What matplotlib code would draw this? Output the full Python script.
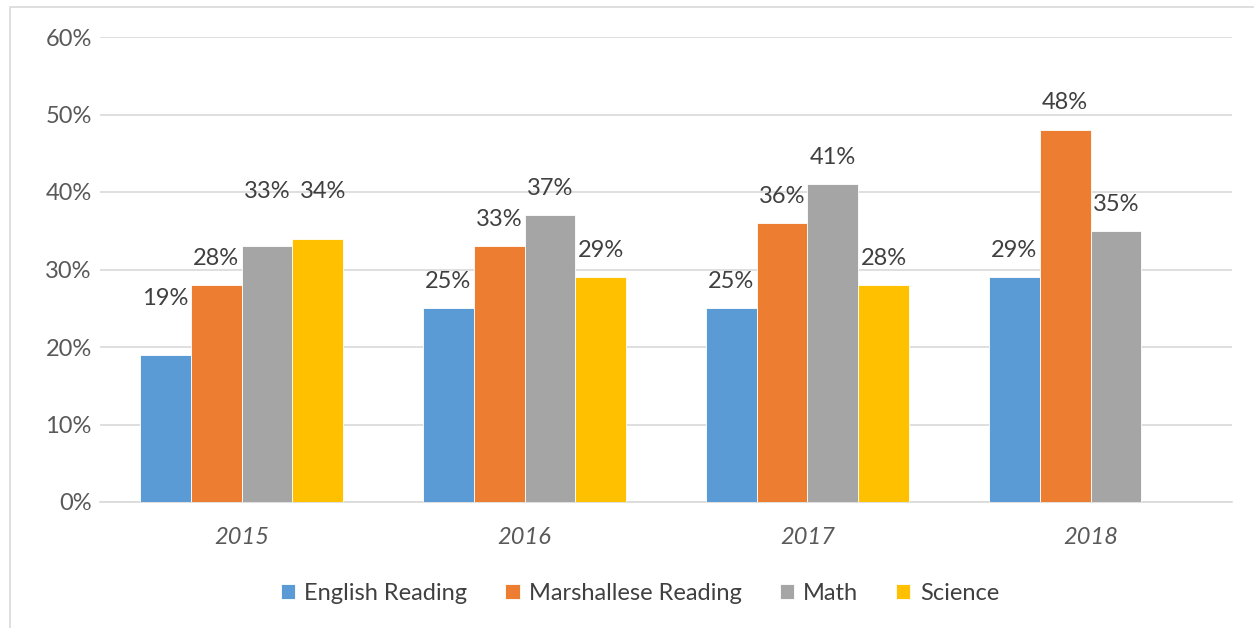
import numpy as np
import matplotlib.pyplot as plt
from matplotlib.patches import Rectangle

plt.rcParams['font.family'] = ['Lato', 'DejaVu Sans']

years = ['2015', '2016', '2017', '2018']
series = ['English Reading', 'Marshallese Reading', 'Math', 'Science']
english = [19, 25, 25, 29]
marshallese = [28, 33, 36, 48]
math_ = [33, 37, 41, 35]
science = [34, 29, 28, np.nan]
colors = ['#5B9BD5', '#ED7D31', '#A5A5A5', '#FFC000']
# label lift above bar top (percentage points), one row per series;
# the 2015 labels were moved up by hand in the original
lifts = [[7.3, 3.4, 3.4, 3.4],
         [3.4, 3.4, 3.4, 3.6],
         [7.1, 3.4, 3.4, 3.4],
         [6.1, 3.4, 3.4, 3.4]]

fig = plt.figure(figsize=(12.54, 6.28), dpi=100)
ax = fig.add_axes([100 / 1254, 1 - 502 / 628, 1132 / 1254, 465 / 628])

# outer frame of the chart box
fig.patches.append(Rectangle((10 / 1254, -0.01), 1.1, 1 - 7 / 628 + 0.01,
                             transform=fig.transFigure, fill=False,
                             edgecolor='#d9d9d9', linewidth=1.2))

x = np.arange(len(years))
w = 0.18
for i, (vals, c) in enumerate(zip([english, marshallese, math_, science], colors)):
    pos = x + (i - 1.5) * w
    ax.bar(pos, vals, w, color=c, edgecolor='white', linewidth=0.6,
           label=series[i], zorder=3)
    for j, (p, v) in enumerate(zip(pos, vals)):
        if np.isnan(v):
            continue
        dx = 0.02 if (i == 3 and j == 0) else 0
        ax.text(p + dx, v + lifts[i][j], f'{v:.0f}%', ha='center', va='center',
                fontsize=17, color='#404040')

ax.set_xlim(-0.5, 3.5)
ax.set_ylim(0, 60)
ax.set_yticks(range(0, 61, 10))
ax.set_yticklabels([f'{t}%' for t in range(0, 61, 10)])
ax.set_xticks(x)
ax.set_xticklabels(years, style='italic')
ax.tick_params(axis='both', length=0, labelsize=17, colors='#595959')
ax.tick_params(axis='y', pad=6)
ax.tick_params(axis='x', pad=18)
ax.grid(axis='y', color='#d9d9d9', linewidth=1.2, zorder=0)
for s in ['top', 'right', 'left']:
    ax.spines[s].set_visible(False)
ax.spines['bottom'].set_color('#d9d9d9')
ax.spines['bottom'].set_linewidth(1.2)

ax.legend(loc='center', bbox_to_anchor=(0.477, -0.196), ncol=4, frameon=False,
          fontsize=17, handlelength=0.6, handleheight=0.6, handletextpad=0.4,
          columnspacing=1.6, labelcolor='#404040')

fig.savefig('out.png', dpi=100)
